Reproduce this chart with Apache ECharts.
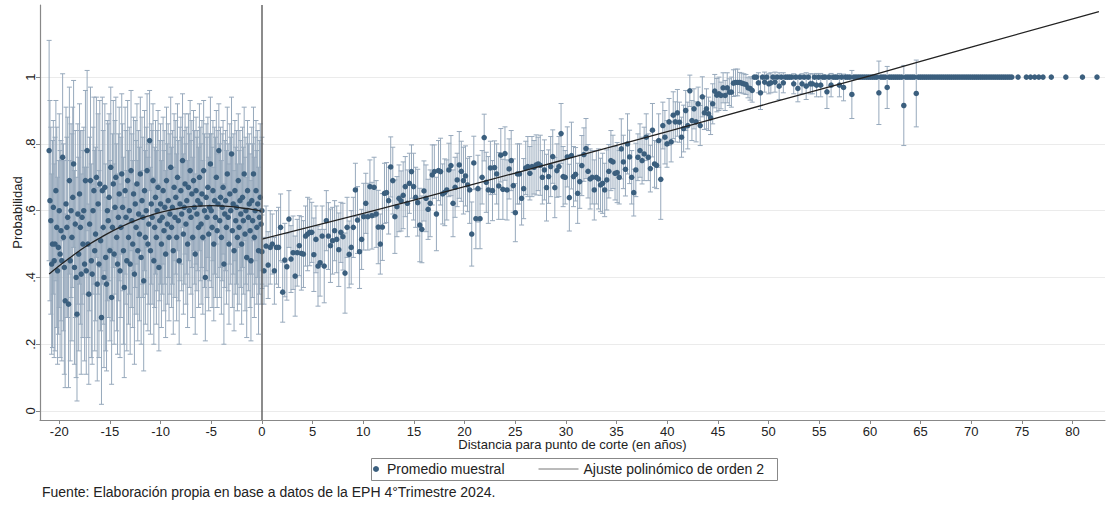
<!DOCTYPE html>
<html>
<head>
<meta charset="utf-8">
<title>Probabilidad según distancia al punto de corte</title>
<script src="https://cdn.jsdelivr.net/npm/echarts@6.0.0/dist/echarts.min.js"></script>
<style>
  html, body { margin: 0; padding: 0; background: #fff; }
  #chart { width: 1120px; height: 510px; }
</style>
</head>
<body>
<div id="chart"></div>
<script>
// bins a la izquierda del corte (mensuales, desde -21)
const leftStart = -21;
const leftStep = 1 / 12;
const leftVals = [
  0.78, 0.63, 0.57, 0.44, 0.50, 0.61, 0.45, 0.50, 0.66, 0.55, 0.42, 0.49,
  0.60, 0.47, 0.54, 0.45, 0.76, 0.52, 0.43, 0.33, 0.62, 0.55, 0.58, 0.32,
  0.69, 0.45, 0.60, 0.52, 0.64, 0.74, 0.43, 0.56, 0.40, 0.29, 0.59, 0.47,
  0.65, 0.55, 0.41, 0.58, 0.50, 0.60, 0.44, 0.69, 0.42, 0.78, 0.50, 0.35,
  0.56, 0.69, 0.45, 0.41, 0.60, 0.66, 0.48, 0.53, 0.70, 0.38, 0.62, 0.44,
  0.68, 0.51, 0.28, 0.66, 0.55, 0.40, 0.67, 0.46, 0.38, 0.60, 0.57, 0.64,
  0.48, 0.73, 0.34, 0.55, 0.68, 0.47, 0.61, 0.70, 0.52, 0.44, 0.58, 0.65,
  0.42, 0.55, 0.71, 0.61, 0.48, 0.37, 0.66, 0.58, 0.45, 0.69, 0.52, 0.60,
  0.44, 0.72, 0.57, 0.50, 0.65, 0.41, 0.62, 0.55, 0.68, 0.48, 0.59, 0.53,
  0.71, 0.46, 0.63, 0.58, 0.39, 0.66, 0.52, 0.60, 0.72, 0.50, 0.56, 0.81,
  0.48, 0.62, 0.58, 0.69, 0.45, 0.55, 0.64, 0.52, 0.60, 0.67, 0.43, 0.57,
  0.62, 0.50, 0.58, 0.66, 0.54, 0.61, 0.47, 0.69, 0.56, 0.63, 0.52, 0.59,
  0.73, 0.55, 0.61, 0.48, 0.67, 0.58, 0.64, 0.52, 0.70, 0.57, 0.45, 0.62,
  0.66, 0.59, 0.75, 0.53, 0.61, 0.68, 0.56, 0.63, 0.50, 0.67, 0.60, 0.72,
  0.58, 0.65, 0.52, 0.69, 0.61, 0.47, 0.66, 0.59, 0.63, 0.55, 0.70, 0.62,
  0.56, 0.65, 0.52, 0.72, 0.60, 0.40, 0.64, 0.58, 0.67, 0.53, 0.61, 0.74,
  0.60, 0.55, 0.66, 0.50, 0.63, 0.58, 0.70, 0.54, 0.62, 0.78, 0.57, 0.64,
  0.52, 0.61, 0.67, 0.44, 0.59, 0.63, 0.55, 0.71, 0.58, 0.50, 0.65, 0.60,
  0.77, 0.54, 0.62, 0.48, 0.66, 0.57, 0.61, 0.52, 0.69, 0.55, 0.63, 0.59,
  0.50, 0.64, 0.57, 0.71, 0.53, 0.60, 0.46, 0.66, 0.58, 0.62, 0.54, 0.45,
  0.63, 0.57, 0.71, 0.52, 0.60, 0.66, 0.55, 0.62, 0.48, 0.58, 0.64, 0.56,
  0.60
];
// semiamplitud del intervalo de confianza
const leftErr = [
  0.33, 0.30, 0.28, 0.27, 0.31, 0.26, 0.29, 0.32, 0.27, 0.30, 0.28, 0.26,
  0.29, 0.31, 0.27, 0.30, 0.25, 0.28, 0.32, 0.26, 0.29, 0.27, 0.30, 0.25,
  0.28, 0.30, 0.26, 0.31, 0.27, 0.25, 0.29, 0.28, 0.30, 0.26, 0.27, 0.29,
  0.27, 0.29, 0.30, 0.26, 0.28, 0.25, 0.29, 0.27, 0.31, 0.24, 0.28, 0.27,
  0.26, 0.28, 0.29, 0.27, 0.25, 0.28, 0.30, 0.26, 0.24, 0.29, 0.27, 0.28,
  0.25, 0.27, 0.26, 0.28, 0.29, 0.27, 0.25, 0.28, 0.26, 0.27, 0.29, 0.25,
  0.27, 0.24, 0.26, 0.28, 0.25, 0.27, 0.26, 0.24, 0.28, 0.27, 0.25, 0.26,
  0.26, 0.27, 0.24, 0.25, 0.28, 0.27, 0.25, 0.26, 0.27, 0.24, 0.26, 0.25,
  0.27, 0.24, 0.26, 0.25, 0.23, 0.27, 0.25, 0.26, 0.24, 0.27, 0.25, 0.26,
  0.23, 0.26, 0.25, 0.24, 0.27, 0.24, 0.26, 0.25, 0.23, 0.26, 0.24, 0.15,
  0.25, 0.24, 0.26, 0.23, 0.25, 0.24, 0.23, 0.26, 0.24, 0.23, 0.25, 0.24,
  0.24, 0.25, 0.23, 0.22, 0.24, 0.23, 0.25, 0.22, 0.24, 0.23, 0.25, 0.24,
  0.21, 0.24, 0.23, 0.25, 0.22, 0.24, 0.23, 0.25, 0.22, 0.24, 0.25, 0.23,
  0.22, 0.23, 0.20, 0.24, 0.23, 0.21, 0.24, 0.22, 0.25, 0.22, 0.23, 0.21,
  0.23, 0.22, 0.24, 0.21, 0.23, 0.24, 0.22, 0.23, 0.21, 0.24, 0.22, 0.23,
  0.24, 0.22, 0.23, 0.21, 0.23, 0.19, 0.22, 0.24, 0.21, 0.23, 0.22, 0.20,
  0.23, 0.24, 0.21, 0.23, 0.22, 0.24, 0.20, 0.23, 0.22, 0.14, 0.23, 0.21,
  0.23, 0.22, 0.20, 0.24, 0.22, 0.21, 0.23, 0.20, 0.22, 0.24, 0.21, 0.22,
  0.17, 0.23, 0.21, 0.24, 0.21, 0.22, 0.23, 0.22, 0.20, 0.23, 0.21, 0.22,
  0.24, 0.21, 0.22, 0.20, 0.23, 0.22, 0.24, 0.21, 0.22, 0.21, 0.23, 0.24,
  0.22, 0.23, 0.20, 0.24, 0.22, 0.21, 0.23, 0.22, 0.25, 0.23, 0.22, 0.24,
  0.22
];

// bins a la derecha del corte (null = bin vacío)
const rightStart = 0;
const rightStep = 0.205;
const rightVals = [
  0.477, 0.42, 0.494, 0.437, 0.49, 0.50, 0.42, 0.49, 0.49, 0.55,
  0.356, 0.452, 0.432, 0.575, 0.455, 0.474, 0.404, 0.474, 0.495, 0.472,
  0.47, 0.524, 0.53, 0.535, 0.535, 0.468, 0.514, 0.434, 0.444, 0.524,
  0.434, 0.57, 0.524, 0.495, 0.51, 0.54, 0.514, 0.483, 0.535, 0.522,
  0.413, 0.55, 0.469, 0.49, 0.55, 0.662, 0.572, 0.477, 0.514, 0.582,
  0.622, 0.582, 0.672, 0.585, 0.67, 0.59, 0.551, 0.50, 0.551, 0.652,
  0.654, 0.63, 0.731, 0.69, 0.582, 0.612, 0.637, 0.629, 0.646, 0.672,
  0.622, 0.682, 0.717, 0.672, 0.64, 0.624, 0.557, 0.544, 0.659, 0.637,
  0.604, 0.622, 0.707, 0.717, 0.59, 0.72, 0.717, 0.65, 0.655, 0.662,
  0.722, 0.735, 0.622, 0.67, 0.692, 0.737, 0.718, 0.69, 0.704, 0.677,
  0.662, 0.53, 0.743, 0.576, 0.666, 0.576, 0.70, 0.819, 0.685, 0.662,
  0.728, 0.66, 0.729, 0.71, 0.674, 0.766, 0.664, 0.771, 0.662,
  0.725, 0.75, 0.675, 0.594, 0.71, 0.71, 0.637, 0.666, 0.728, 0.732,
  0.712, 0.732, 0.73, 0.737, 0.74, 0.736, 0.70, 0.722, 0.669, 0.702,
  0.732, 0.762, 0.669, 0.72, 0.732, 0.831, 0.702, 0.70, 0.761, 0.639,
  0.765, 0.702, 0.709, 0.652, 0.687, 0.735, 0.768, 0.786, 0.718, 0.695,
  0.70, 0.662, 0.70, 0.695, 0.677, 0.682, 0.662, 0.692, 0.718, 0.75,
  0.746, 0.712, 0.714, 0.70, 0.785, 0.746, 0.724, 0.80,
  0.761, 0.70, 0.654, 0.722, 0.76, 0.78, 0.75, 0.77, 0.82, 0.76,
  0.726, 0.841, 0.74, 0.736, 0.81, 0.694, 0.855, 0.82, 0.80, 0.866,
  0.806, 0.886, 0.866, 0.893, 0.865, 0.82, 0.846, 0.90, 0.855, 0.959,
  0.87, 0.905, 0.866, 0.92, 0.855, 0.941, 0.893, 0.905, 0.89, 0.878,
  0.92, 0.958, 0.946, 0.95, 0.945, 0.968, 0.945, 0.968, 0.955, 0.955,
  0.982, 0.984, 0.984, 0.984, 0.982, 0.98, 0.978, 0.968, 0.966, 0.96,
  1, 1, 0.983,
  0.953, 1, 0.985, 1, 0.98, 0.983, 1, 0.985, 1, 0.973,
  1, 0.983, 1, 1, 1, 1, 0.98, 1, 0.966, 1,
  0.98, 1, 0.973, 1, 0.98, 0.98, 1, 0.976, 1, 0.976,
  1, 1, 0.956, 1, 0.976, 1, 1, 1, 0.976, 1,
  0.969, 1, 1, 1, 0.948, 1, 1, 1, 1, 1,
  1, 1, 1, 1, 1, 1, 1, 0.953, 1, 1,
  1, 0.969, 1, 1, 1, 1, 1, 1, 1, 0.915,
  1, 1, 1, 1, 1, 0.951, 1, 1, 1, 1,
  1, 1, 1, 1, 1, 1, 1, 1, 1, 1,
  1, 1, 1, 1, 1, 1, 1, 1, 1, 1,
  1, 1, 1, 1, 1, 1, 1, 1, 1, 1,
  1, 1, 1, 1, 1, 1, 1, 1, 1, 1,
  1, 1, null, null, 1, null, null, null, 1, null,
  1, null, 1, null, 1, null, 1, null, null, null,
  1, null, null, null, null, null, null, 1, null, null,
  null, null, null, null, null, 1, null, null, null, null,
  null, null, 1
];
const rightErr = [
  0.11, 0.10, 0.12, 0.10, 0.11, 0.09, 0.10, 0.11, 0.12, 0.10,
  0.09, 0.11, 0.10, 0.085, 0.10, 0.11, 0.12, 0.10, 0.09, 0.11,
  0.10, 0.09, 0.11, 0.10, 0.09, 0.11, 0.10, 0.12, 0.10, 0.09,
  0.11, 0.09, 0.10, 0.11, 0.10, 0.09, 0.10, 0.11, 0.09, 0.10,
  0.12, 0.09, 0.10, 0.11, 0.09, 0.08, 0.10, 0.11, 0.09, 0.10,
  0.09, 0.10, 0.08, 0.10, 0.09, 0.10, 0.11, 0.09, 0.10, 0.09,
  0.09, 0.10, 0.09, 0.10, 0.11, 0.09, 0.10, 0.09, 0.10, 0.09,
  0.10, 0.09, 0.08, 0.10, 0.09, 0.10, 0.11, 0.10, 0.09, 0.10,
  0.09, 0.10, 0.09, 0.08, 0.11, 0.09, 0.10, 0.09, 0.10, 0.09,
  0.08, 0.09, 0.10, 0.09, 0.08, 0.10, 0.09, 0.10, 0.09, 0.08,
  0.10, 0.096, 0.08, 0.09, 0.10, 0.09, 0.08, 0.07, 0.09, 0.10,
  0.08, 0.09, 0.08, 0.09, 0.10, 0.08, 0.09, 0.08, 0.09, 0.09,
  0.09, 0.08, 0.087, 0.09, 0.09, 0.08, 0.09, 0.08, 0.09, 0.08,
  0.09, 0.08, 0.09, 0.08, 0.09, 0.08, 0.09, 0.10, 0.08, 0.09,
  0.08, 0.09, 0.08, 0.09, 0.09, 0.09, 0.08, 0.09, 0.10, 0.10,
  0.09, 0.08, 0.09, 0.08, 0.09, 0.08, 0.09, 0.08, 0.09, 0.08,
  0.09, 0.08, 0.09, 0.08, 0.09, 0.08, 0.09, 0.08, 0.09, 0.08,
  0.08, 0.09, 0.08, 0.09, 0.08, 0.08, 0.09, 0.08, 0.08, 0.07,
  0.08, 0.07, 0.08, 0.07, 0.08, 0.07, 0.07, 0.07, 0.08, 0.07,
  0.07, 0.08, 0.12, 0.07, 0.08, 0.07, 0.07, 0.06, 0.07, 0.06,
  0.07, 0.06, 0.06, 0.07, 0.06, 0.07, 0.047, 0.06, 0.06, 0.06,
  0.05, 0.06, 0.06, 0.05, 0.06, 0.05, 0.05, 0.06, 0.05, 0.05,
  0.05, 0.04, 0.045, 0.045, 0.045, 0.04, 0.045, 0.04, 0.04, 0.04,
  0.03, 0.03, 0.03, 0.03, 0.03, 0.035, 0.035,
  0, 0, 0.03,
  0.05, 0, 0.03, 0, 0.03, 0.03, 0, 0.03, 0, 0.04,
  0, 0.03, 0, 0, 0, 0, 0.03, 0, 0.04, 0,
  0.03, 0, 0.04, 0, 0.03, 0.03, 0, 0.035, 0, 0.035,
  0, 0, 0.05, 0, 0.035, 0, 0, 0, 0.035, 0,
  0.04, 0, 0, 0, 0.072, 0, 0, 0, 0, 0,
  0, 0, 0, 0, 0, 0, 0, 0.095, 0, 0,
  0, 0.063, 0, 0, 0, 0, 0, 0, 0, 0.12,
  0, 0, 0, 0, 0, 0.1
];

// ajuste polinómico de orden 2, a cada lado
const fitLeftX = [-21, -20, -19, -18, -17, -16, -15, -14, -13, -12, -11, -10, -9, -8, -7, -6, -5, -4, -3, -2, -1, 0];
const fitLeftY = [0.41, 0.435, 0.458, 0.48, 0.50, 0.518, 0.535, 0.55, 0.564, 0.576, 0.586, 0.595, 0.602, 0.608, 0.612, 0.614, 0.615, 0.614, 0.612, 0.608, 0.604, 0.598];
const fitRightX = [0, 10, 20, 30, 40, 50, 60, 70, 82.6];
const fitRightY = [0.515, 0.592, 0.672, 0.754, 0.837, 0.921, 1.004, 1.09, 1.196];

const xTicks = [-20, -15, -10, -5, 0, 5, 10, 15, 20, 25, 30, 35, 40, 45, 50, 55, 60, 65, 70, 75, 80];
const yTicks = [0, 0.2, 0.4, 0.6, 0.8, 1];
const yTickLabels = ['0', '.2', '.4', '.6', '.8', '1'];

const dotColor = '#3b5f7e';
const barColor = '#97a9bc';

const points = [];
const bars = [];
leftVals.forEach((v, i) => {
  const x = leftStart + i * leftStep;
  points.push([x, v]);
  bars.push([x, v - leftErr[i], v + leftErr[i]]);
});
rightVals.forEach((v, i) => {
  if (v == null) return;
  const x = rightStart + i * rightStep;
  const e = rightErr[i] || 0;
  points.push([x, v]);
  if (e > 0) bars.push([x, v - e, v + e]);
});

function renderBar(params, api) {
  const x = api.value(0);
  const lo = api.coord([x, api.value(1)]);
  const hi = api.coord([x, api.value(2)]);
  const w = 2.5;
  const style = { stroke: barColor, lineWidth: 1, fill: null };
  return {
    type: 'group',
    children: [
      { type: 'line', shape: { x1: hi[0], y1: hi[1], x2: lo[0], y2: lo[1] }, style: style },
      { type: 'line', shape: { x1: hi[0] - w, y1: hi[1], x2: hi[0] + w, y2: hi[1] }, style: style },
      { type: 'line', shape: { x1: lo[0] - w, y1: lo[1], x2: lo[0] + w, y2: lo[1] }, style: style }
    ]
  };
}

const chart = echarts.init(document.getElementById('chart'), null, { renderer: 'svg' });
const fitName = 'Ajuste polinómico de orden 2';
const dotName = 'Promedio muestral';

chart.setOption({
  animation: false,
  textStyle: { fontFamily: '"Liberation Sans", Arial, sans-serif' },
  title: {
    text: 'Fuente: Elaboración propia en base a datos de la EPH 4°Trimestre 2024.',
    left: 42,
    top: 485,
    padding: 0,
    textStyle: { fontSize: 14, fontWeight: 'normal', color: '#222' }
  },
  legend: [
    {
      data: [{ name: dotName, icon: 'circle' }],
      left: 373, top: 462, padding: 0,
      itemWidth: 12, itemHeight: 6,
      selectedMode: false,
      textStyle: { fontSize: 14, color: '#222' }
    },
    {
      data: [{
        name: fitName,
        itemStyle: { opacity: 0 },
        lineStyle: { color: '#777', width: 1 }
      }],
      left: 538, top: 462, padding: 0,
      itemWidth: 40, itemHeight: 10,
      selectedMode: false,
      textStyle: { fontSize: 14, color: '#222' }
    }
  ],
  graphic: [
    {
      type: 'rect',
      shape: { x: 371.5, y: 458.5, width: 406, height: 22 },
      style: { fill: null, stroke: '#888', lineWidth: 1 }
    }
  ],
  grid: { left: 40, right: 15, top: 5, bottom: 90, outerBoundsMode: 'none', containLabel: false },
  xAxis: {
    type: 'value',
    min: -21.9,
    max: 83.2,
    name: 'Distancia para punto de corte (en años)',
    nameLocation: 'middle',
    nameGap: 18,
    nameMoveOverlap: false,
    nameTextStyle: { fontSize: 13, color: '#222' },
    axisLine: { show: true, onZero: false, lineStyle: { color: '#888', width: 1.2 } },
    axisTick: { show: true, length: 4, customValues: xTicks, lineStyle: { color: '#888' } },
    axisLabel: { customValues: xTicks, fontSize: 13, color: '#222', margin: 5 },
    splitLine: { show: false }
  },
  yAxis: {
    type: 'value',
    min: -0.027,
    max: 1.216,
    name: 'Probabilidad',
    nameLocation: 'middle',
    nameRotate: 90,
    nameGap: 16,
    nameMoveOverlap: false,
    nameTextStyle: { fontSize: 13, color: '#222' },
    axisLine: { show: true, onZero: false, lineStyle: { color: '#888', width: 1.2 } },
    axisTick: { show: true, length: 4, customValues: yTicks, lineStyle: { color: '#888' } },
    axisLabel: {
      customValues: yTicks,
      rotate: 90,
      fontSize: 13,
      color: '#222',
      margin: 3,
      formatter: v => yTickLabels[yTicks.findIndex(t => Math.abs(t - v) < 1e-6)]
    },
    splitLine: { show: false }
  },
  series: [
    {
      name: 'ic',
      type: 'custom',
      renderItem: renderBar,
      encode: { x: 0, y: [1, 2] },
      data: bars,
      clip: true,
      silent: true,
      z: 2,
      markLine: {
        silent: true,
        symbol: 'none',
        z: 0,
        label: { show: false },
        lineStyle: { color: '#ebebeb', width: 1, type: 'solid' },
        data: yTicks.map(v => ({ yAxis: v }))
      }
    },
    {
      name: dotName,
      type: 'scatter',
      data: points,
      symbolSize: 5.5,
      itemStyle: { color: dotColor, opacity: 1 },
      silent: true,
      z: 3
    },
    {
      name: fitName,
      type: 'line',
      data: fitLeftX.map((x, i) => [x, fitLeftY[i]]),
      smooth: true,
      symbol: 'none',
      lineStyle: { color: '#222', width: 1.3 },
      silent: true,
      z: 4
    },
    {
      name: fitName,
      type: 'line',
      data: fitRightX.map((x, i) => [x, fitRightY[i]]),
      smooth: true,
      symbol: 'none',
      lineStyle: { color: '#222', width: 1.3 },
      silent: true,
      z: 4,
      markLine: {
        silent: true,
        symbol: 'none',
        z: 5,
        label: { show: false },
        lineStyle: { color: '#666', width: 1.5, type: 'solid' },
        data: [{ xAxis: 0 }]
      }
    }
  ]
});
</script>
</body>
</html>
